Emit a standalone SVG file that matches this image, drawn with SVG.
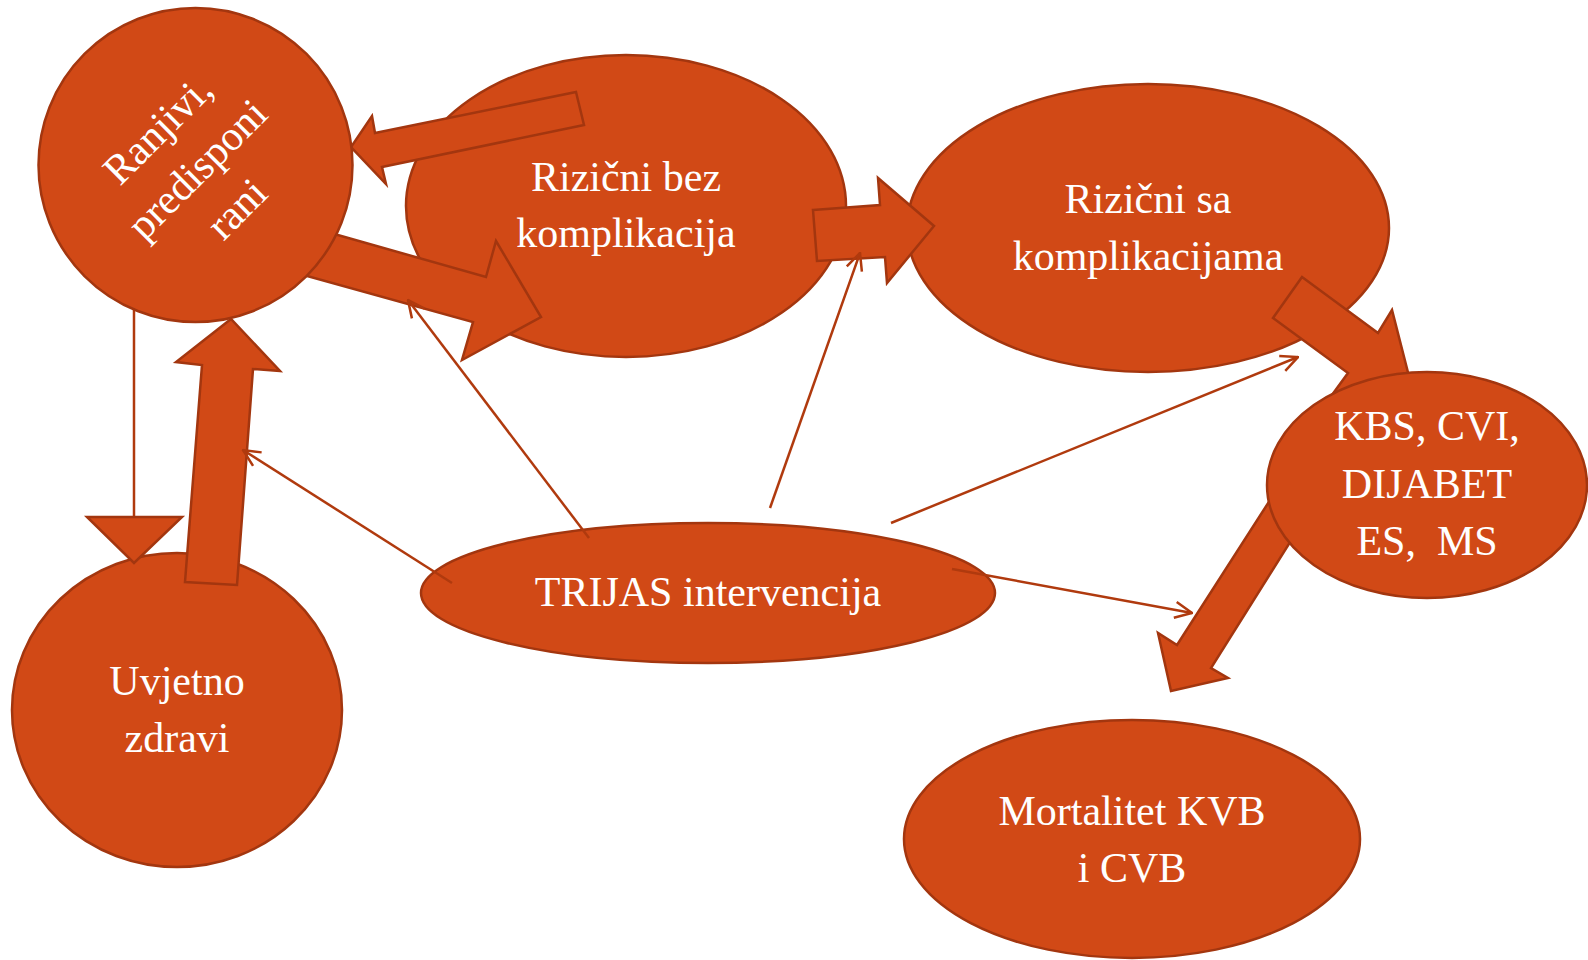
<svg xmlns="http://www.w3.org/2000/svg" width="1588" height="960" viewBox="0 0 1588 960">
<defs>
<style>
.n{fill:#D14916;stroke:#A3360F;stroke-width:2.5}
.a{fill:#D14916;stroke:#A3360F;stroke-width:2.5;stroke-linejoin:miter}
.l{fill:none;stroke:#B03A0E;stroke-width:2.5}
.t{font-family:"Liberation Serif","Times New Roman",serif;font-size:42px;fill:#FFFFFF;text-anchor:middle}
</style>
<marker id="oa" viewBox="0 0 20 20" refX="19" refY="10" markerWidth="20" markerHeight="20" markerUnits="userSpaceOnUse" orient="auto">
<path d="M2,2 L19,10 L2,18" fill="none" stroke="#B03A0E" stroke-width="2.5"/>
</marker>
</defs>
<rect width="1588" height="960" fill="#FFFFFF"/>

<g id="uvjetno">
<ellipse class="n" cx="177" cy="710" rx="165" ry="157"/>
<text class="t" x="177" y="695">Uvjetno</text>
<text class="t" x="177" y="752">zdravi</text>
</g>
<g id="rizicni-bez">
<ellipse class="n" cx="626" cy="206" rx="220" ry="151"/>
<text class="t" x="626" y="191">Rizični bez</text>
<text class="t" x="626" y="247">komplikacija</text>
</g>
<g id="rizicni-sa">
<ellipse class="n" cx="1148" cy="228" rx="241" ry="144"/>
<text class="t" x="1148" y="213">Rizični sa</text>
<text class="t" x="1148" y="270">komplikacijama</text>
</g>
<g id="mortalitet">
<ellipse class="n" cx="1132" cy="839" rx="228" ry="119"/>
<text class="t" x="1132" y="825">Mortalitet KVB</text>
<text class="t" x="1132" y="882">i CVB</text>
</g>
<g id="trijas">
<ellipse class="n" cx="708" cy="593" rx="287" ry="70"/>
<text class="t" x="708" y="606">TRIJAS intervencija</text>
</g>

<g id="connectors">
<polygon class="a" points="576,92 584,125 382,167 386,184 351,147 372,116 375,133"/>
<polygon class="a" points="299,224 486,277 496,241 541,317 462,360 473,322 271,266"/>
<polygon class="a" points="813,210 880,205 878,178 934,226 887,283 885,257 817,261"/>
<polygon class="a" points="1273,318 1302,277 1378,333 1392,310 1413,392 1332,395 1348,373"/>
<polygon class="a" points="1290,469 1177,645 1158,633 1171,691 1228,678 1211,668 1309,512"/>
<polygon class="a" points="185,582 202,365 176,362 231,319 280,371 253,369 237,585"/>
<line class="l" x1="134" y1="300" x2="134" y2="517"/>
<polygon class="a" points="87,517 182,517 134,563"/>
<line class="l" x1="589" y1="538" x2="408" y2="300" marker-end="url(#oa)"/>
<line class="l" x1="452" y1="583" x2="243" y2="450" marker-end="url(#oa)"/>
<line class="l" x1="770" y1="508" x2="860" y2="253" marker-end="url(#oa)"/>
<line class="l" x1="891" y1="523" x2="1298" y2="357" marker-end="url(#oa)"/>
<line class="l" x1="952" y1="569" x2="1192" y2="613" marker-end="url(#oa)"/>
</g>

<g id="ranjivi">
<circle class="n" cx="195.5" cy="165" r="157"/>
<g transform="translate(207,179) rotate(-45)">
<text class="t" x="0" y="-56">Ranjivi,</text>
<text class="t" x="0" y="0">predisponi</text>
<text class="t" x="0" y="56">rani</text>
</g>
</g>
<g id="kbs">
<ellipse class="n" cx="1427" cy="485" rx="160" ry="113"/>
<text class="t" x="1427" y="440">KBS, CVI,</text>
<text class="t" x="1427" y="498">DIJABET</text>
<text class="t" x="1427" y="555" xml:space="preserve">ES,  MS</text>
</g>
</svg>
